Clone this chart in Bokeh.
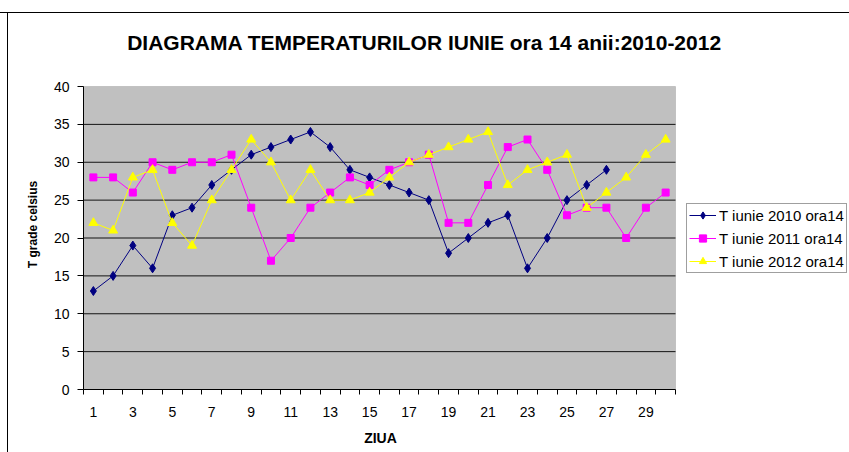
from bokeh.plotting import figure
from bokeh.models import (Range1d, FixedTicker, Legend, LegendItem, Label,
                          BoxAnnotation)
from bokeh.embed import file_html
from bokeh.resources import INLINE
import math

# ---- data ----
days = list(range(1, 31))
t2010 = [13, 15, 19, 16, 23, 24, 27, 29, 31, 32, 33, 34, 32, 29, 28, 27, 26, 25,
         18, 20, 22, 23, 16, 20, 25, 27, 29]
t2011 = [28, 28, 26, 30, 29, 30, 30, 31, 24, 17, 20, 24, 26, 28, 27, 29, 30, 31,
         22, 22, 27, 32, 33, 29, 23, 24, 24, 20, 24, 26]
t2012 = [22, 21, 28, 29, 22, 19, 25, 29, 33, 30, 25, 29, 25, 25, 26, 28, 30, 31,
         32, 33, 34, 27, 29, 30, 31, 24, 26, 28, 31, 33]
series_names = ["T iunie 2010 ora14", "T iunie 2011 ora14", "T iunie 2012 ora14"]
x_tick_labels = [d for d in days if d % 2 == 1]
y_ticks = [0, 5, 10, 15, 20, 25, 30, 35, 40]
title_text = "DIAGRAMA TEMPERATURILOR IUNIE ora 14 anii:2010-2012"
x_title = "ZIUA"
y_title = "T grade celsius"

FONT = "Liberation Sans"

# ---- layout (pixels on the canvas) ----
W, H = 849, 452
PA_LEFT, PA_TOP = 83, 86         # grey plot area, top-left corner
PA_W, PA_H = 592, 303            # grey plot area size
x_lo, x_hi = days[0] - 0.5, days[-1] + 0.5
y_lo, y_hi = y_ticks[0], y_ticks[-1]
ux = PA_W / (x_hi - x_lo)        # px per day
uy = PA_H / (y_hi - y_lo)        # px per degree
PA_BOTTOM = PA_TOP + PA_H


def dx(px):   # canvas x pixel -> data x
    return x_lo + (px - PA_LEFT) / ux


def dy(py):   # canvas y pixel (from top) -> data y
    return y_lo + (PA_BOTTOM - py) / uy


p = figure(width=W, height=H, output_backend="svg", toolbar_location=None,
           x_range=Range1d(dx(0), dx(W)), y_range=Range1d(dy(H), dy(0)),
           min_border_left=0, min_border_right=0, min_border_top=0,
           min_border_bottom=0,
           styles={
               "background-image": "linear-gradient(#000,#000), linear-gradient(#000,#000)",
               "background-size": "100% 1px, 1px 100%",
               "background-position": "0 12px, 7px 12px",
               "background-repeat": "no-repeat",
           })
p.background_fill_color = None
p.border_fill_color = None
p.outline_line_color = None
p.xgrid.visible = False
p.ygrid.visible = False

# grey plot area
p.add_layout(BoxAnnotation(left=x_lo, right=x_hi, bottom=y_lo, top=y_hi,
                           fill_color="#C0C0C0", fill_alpha=1,
                           line_color="#808080", line_width=1,
                           level="underlay"))
# horizontal grid lines
g_ticks = y_ticks[1:-1]
p.segment(x0=[x_lo] * len(g_ticks), x1=[x_hi] * len(g_ticks),
          y0=g_ticks, y1=g_ticks, line_color="#000000", line_width=1,
          line_alpha=0.9)

# x axis (drawn at y = 0)
xa = p.xaxis[0]
xa.fixed_location = y_lo
xa.bounds = (x_lo, x_hi)
xa.ticker = FixedTicker(ticks=x_tick_labels,
                        minor_ticks=[d - 0.5 for d in days] + [days[-1] + 0.5])
xa.major_tick_line_color = None
xa.major_tick_out = 0
xa.major_tick_in = 0
xa.minor_tick_line_color = "black"
xa.minor_tick_out = 5
xa.minor_tick_in = 0
xa.axis_line_color = "black"
xa.major_label_standoff = 12
xa.major_label_text_font = FONT
xa.major_label_text_font_size = "14px"
xa.major_label_text_color = "black"

# y axis (drawn at the first day's left edge)
ya = p.yaxis[0]
ya.fixed_location = x_lo
ya.bounds = (y_lo, y_hi)
ya.ticker = FixedTicker(ticks=y_ticks)
ya.major_tick_out = 6
ya.major_tick_in = 0
ya.minor_tick_line_color = None
ya.axis_line_color = "black"
ya.major_label_standoff = 8
ya.major_label_text_font = FONT
ya.major_label_text_font_size = "14px"
ya.major_label_text_color = "black"

# series
r1l = p.line(days[:len(t2010)], t2010, line_color="#000080", line_width=1)
r1m = p.scatter(days[:len(t2010)], t2010, marker="diamond", size=9,
                fill_color="#000080", line_color="#000080")
r2l = p.line(days, t2011, line_color="#FF00FF", line_width=1)
r2m = p.scatter(days, t2011, marker="square", size=7,
                fill_color="#FF00FF", line_color="#FF00FF")
r3l = p.line(days, t2012, line_color="#FFFF00", line_width=1)
r3m = p.scatter(days, t2012, marker="triangle", size=9,
                fill_color="#FFFF00", line_color="#FFFF00")

legend = Legend(items=[
    LegendItem(label=series_names[0], renderers=[r1l, r1m]),
    LegendItem(label=series_names[1], renderers=[r2l, r2m]),
    LegendItem(label=series_names[2], renderers=[r3l, r3m]),
], location=(686, H - 273))
legend.label_text_font = FONT
legend.label_text_font_size = "15px"
legend.label_text_color = "black"
legend.glyph_width = 27
legend.glyph_height = 18
legend.label_height = 18
legend.label_standoff = 3
legend.spacing = 5
legend.padding = 2
legend.margin = 0
legend.border_line_color = "#404040"
legend.border_line_width = 1
legend.background_fill_color = "white"
legend.background_fill_alpha = 1
p.add_layout(legend, "center")

# titles
p.add_layout(Label(x=dx(424), y=dy(42), text=title_text,
                   text_align="center", text_baseline="middle",
                   text_font=FONT, text_font_style="bold",
                   text_font_size="21px", text_color="black"))
p.add_layout(Label(x=dx(380), y=dy(437), text=x_title,
                   text_align="center", text_baseline="middle",
                   text_font=FONT, text_font_style="bold",
                   text_font_size="14px", text_color="black"))
p.add_layout(Label(x=dx(32), y=dy(224), text=y_title, angle=math.pi / 2,
                   text_align="center", text_baseline="middle",
                   text_font=FONT, text_font_style="bold",
                   text_font_size="12px", text_color="black"))

open("out.html", "w").write(file_html(p, INLINE))
